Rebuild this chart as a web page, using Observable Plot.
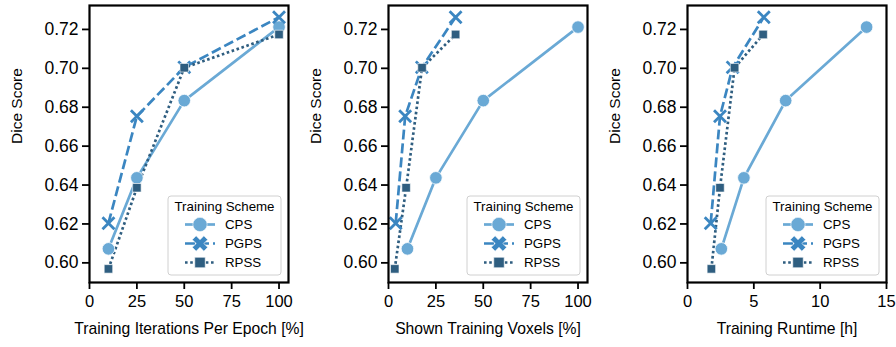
<!DOCTYPE html>
<html><head><meta charset="utf-8">
<script src="https://cdn.jsdelivr.net/npm/d3@7"></script>
<script src="https://cdn.jsdelivr.net/npm/@observablehq/plot@0.6"></script>
<style>
body{margin:0;background:#fff;}
#wrap{position:relative;width:896px;height:347px;font-family:"Liberation Sans",Arial,sans-serif;}
#wrap svg{position:absolute;top:0;}
</style></head><body><div id="wrap"></div>
<script>
// ---- data ----
const schemes = ["CPS", "PGPS", "RPSS"];
const schemeColors = ["#6aa9d5", "#3b86c1", "#2f5e80"];
const cpsDice  = [0.6072, 0.6437, 0.6834, 0.7212];
const pgpsDice = [0.6204, 0.6754, 0.7005, 0.7263];
const rpssDice = [0.5969, 0.6386, 0.7003, 0.7174];
// Panel 1: training iterations per epoch [%]
const cpsIter  = [10, 25, 50, 100];
const pgpsIter = [10, 25, 50, 100];
const rpssIter = [10, 25, 50, 100];
// Panel 2: shown training voxels [%]
const cpsVox  = [10, 25, 50, 100];
const pgpsVox = [3.8, 8.8, 17.6, 35.4];
const rpssVox = [3.3, 9.3, 17.7, 35.4];
// Panel 3: training runtime [h]
const cpsTime  = [2.55, 4.25, 7.4, 13.5];
const pgpsTime = [1.75, 2.45, 3.4, 5.75];
const rpssTime = [1.8, 2.45, 3.55, 5.7];
const yTicks = [0.60, 0.62, 0.64, 0.66, 0.68, 0.70, 0.72];
const pctTicks = [0, 25, 50, 75, 100];
const hourTicks = [0, 5, 10, 15];
const yLabel = "Dice Score";
const legendTitle = "Training Scheme";

const diceBy = [cpsDice, pgpsDice, rpssDice];
const panels = [
  {xs: [cpsIter, pgpsIter, rpssIter], label: "Training Iterations Per Epoch [%]", domain: [0, 105], ticks: pctTicks, left: 0},
  {xs: [cpsVox, pgpsVox, rpssVox], label: "Shown Training Voxels [%]", domain: [0, 105], ticks: pctTicks, left: 299},
  {xs: [cpsTime, pgpsTime, rpssTime], label: "Training Runtime [h]", domain: [0, 15], ticks: hourTicks, left: 598}
];

const dashes = [null, "10,4", "2.6,2.6"];
const W = 299, H = 347, mL = 89, mR = 11, mT = 5, mB = 65;
const FONT = '"Liberation Sans", Arial, sans-serif';

function rows(p, i) {
  return p.xs[i].map((x, j) => ({x, y: diceBy[i][j], s: schemes[i]}));
}

for (const p of panels) {
  const marks = [];
  schemes.forEach((s, i) => {
    marks.push(Plot.line(rows(p, i), {x: "x", y: "y", stroke: schemeColors[i], strokeWidth: 2.7,
      strokeDasharray: dashes[i] ?? undefined, strokeLinecap: "butt"}));
  });
  schemes.forEach((s, i) => {
    const d = rows(p, i);
    if (i === 0) marks.push(Plot.dot(d, {x: "x", y: "y", r: 6.3, fill: schemeColors[i], stroke: "white", strokeWidth: 0.8}));
    if (i === 1) marks.push(Plot.dot(d, {x: "x", y: "y", r: 5.5, symbol: "times", stroke: schemeColors[i], strokeWidth: 2.8}));
    if (i === 2) marks.push(Plot.dot(d, {x: "x", y: "y", r: 4.8, symbol: "square", fill: schemeColors[i], stroke: "white", strokeWidth: 0.6}));
  });
  marks.push(Plot.axisX({ticks: p.ticks, tickSize: 7, tickPadding: 6, strokeWidth: 1.8, label: null, fontSize: 16.5}));
  marks.push(Plot.axisY({ticks: yTicks, tickFormat: ".2f", tickSize: 7, tickPadding: 4, strokeWidth: 1.8, label: null, fontSize: 17.5}));
  marks.push(Plot.frame({stroke: "black", strokeWidth: 2.2}));
  marks.push(Plot.text([p.label], {frameAnchor: "bottom", dy: 51, text: d => d, fontSize: 15.7, fill: "black"}));
  marks.push(Plot.text([yLabel], {frameAnchor: "left", dx: -72, rotate: -90, text: d => d, fontSize: 15.5, fill: "black"}));

  const svg = Plot.plot({
    width: W, height: H, marginLeft: mL, marginRight: mR, marginTop: mT, marginBottom: mB,
    x: {domain: p.domain},
    y: {domain: [0.5899, 0.7323]},
    style: {fontFamily: FONT, fontSize: "15px", color: "black", background: "transparent", overflow: "visible"},
    marks
  });
  svg.style.left = p.left + "px";
  // legend inside plot, lower right
  const g = d3.select(svg).append("g").attr("font-size", 13).attr("font-family", FONT).attr("text-anchor", "start");
  const bw = 113, bh = 79;
  const bx = W - mR - 7 - bw, by = H - mB - 7 - bh;
  g.append("rect").attr("x", bx).attr("y", by).attr("width", bw).attr("height", bh).attr("rx", 3)
    .attr("fill", "white").attr("fill-opacity", 0.85).attr("stroke", "#d0d0d0").attr("stroke-width", 1);
  g.append("text").attr("x", bx + bw / 2).attr("y", by + 10.5).attr("dy", "0.35em").attr("text-anchor", "middle")
    .attr("fill", "black").style("font-size", "13.3px").text(legendTitle);
  schemes.forEach((s, i) => {
    const yy = by + 28.5 + i * 19;
    g.append("line").attr("x1", bx + 17).attr("x2", bx + 47).attr("y1", yy).attr("y2", yy)
      .attr("stroke", schemeColors[i]).attr("stroke-width", 2.7).attr("stroke-dasharray", dashes[i]);
    if (i === 1) {
      g.append("path").attr("d", d3.symbol(d3.symbolCross, 150)()).attr("transform", `translate(${bx + 32},${yy}) rotate(45)`)
        .attr("fill", schemeColors[i]).attr("stroke", "white").attr("stroke-width", 0.6);
    } else {
      const sym = i === 0 ? d3.symbolCircle : d3.symbolSquare;
      const size = i === 0 ? 160 : 110;
      g.append("path").attr("d", d3.symbol(sym, size)()).attr("transform", `translate(${bx + 32},${yy})`)
        .attr("fill", schemeColors[i]).attr("stroke", "white").attr("stroke-width", 0.6);
    }
    g.append("text").attr("x", bx + 57).attr("y", yy).attr("dy", "0.35em").attr("text-anchor", "start")
      .attr("fill", "black").style("font-size", "13.3px").text(s);
  });
  document.getElementById("wrap").appendChild(svg);
}
</script></body></html>
